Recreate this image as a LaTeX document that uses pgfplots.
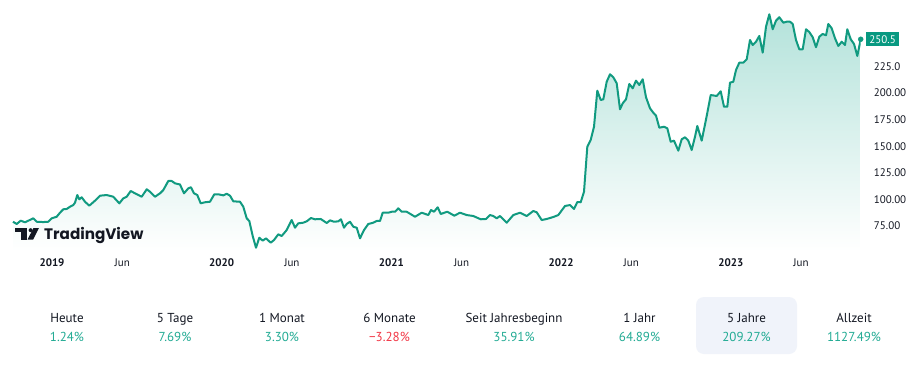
\documentclass[border=0pt]{standalone}
\usepackage{fontspec}
\setmainfont{PT Sans}
\newfontfamily\logofont{Poppins}
\usepackage{pgfplots}
\usepackage{pgfplotstable}
\pgfplotsset{compat=1.18}
\definecolor{tvline}{HTML}{119A80}
\definecolor{tvbox}{HTML}{089981}
\definecolor{tvpct}{HTML}{22AB94}
\definecolor{tvtext}{HTML}{131722}
\definecolor{tvred}{HTML}{F23645}
\definecolor{tvhl}{HTML}{F0F3FA}
% t = position on the time scale (169.7 units per year, 1 Jan 2019 = 52), val = price
\pgfplotstableread{
t val
13 79.0
16.7 76.9
20.7 80.0
25 78.5
33.3 82.2
36.7 79.0
43.3 78.7
48.3 79.0
51.7 82.2
56.7 83.7
60 87.5
63.3 90.7
66.7 91.0
70 93.1
73.3 94.7
75 96.9
77.3 104.1
79.3 100.1
81.7 102.0
85 97.8
89.3 94.1
95 98.8
100 103.5
106.7 104.1
113.3 102.5
119.3 96.3
123.3 101.0
126.7 102.5
130.7 107.9
135 105.7
141.7 102.5
146.7 109.5
150 107.2
155 102.5
160 105.7
163.3 108.8
168.3 117.3
171.7 117.3
175 115.1
180 114.0
184 105.7
188.3 110.4
191 111.4
194 105.7
197.3 104.1
200.7 96.3
205 97.3
210 97.8
214.3 104.8
218.3 104.8
223.3 103.8
226.7 105.3
230 103.5
233.3 98.2
240 97.8
243.3 93.1
246.7 82.2
249.3 79.7
252.7 65.6
256 54.6
259.3 64.0
262.7 61.2
266 63.4
270.7 59.3
274 61.8
278.3 67.2
281.7 65.6
286.7 71.2
291.7 80.6
295 73.4
298.3 77.5
303.3 78.1
306.7 79.4
311 82.5
315 81.3
320.7 81.6
326.7 77.8
330 80.3
334 79.0
338.3 79.4
341 81.3
344 73.4
346.7 76.9
350 79.0
353.3 74.3
356.7 73.4
360 63.4
364 71.2
368.3 76.9
373.3 78.1
376.7 79.7
380 79.7
382.7 87.5
388.3 87.5
391.7 88.4
395 88.4
398.3 91.6
401.7 88.4
406.7 88.4
415 83.7
421.7 87.5
428.3 85.3
431 90.0
434 88.4
437.7 92.6
440.7 86.3
447.3 88.4
454.3 84.7
460 87.5
466.7 85.3
473.3 84.4
480.7 81.3
486 81.6
490 85.3
493.3 84.4
496.7 82.2
500 84.4
506.7 78.1
513.3 85.3
520 87.5
526.7 84.4
533.3 89.1
536.7 87.9
541.7 80.6
546.7 81.6
550 82.5
554 83.7
558.3 85.3
565 93.8
570 94.7
574 91.0
577.3 97.5
580.7 97.3
584 107.2
587.3 149.5
590.7 155.8
594 168.3
597.3 202.2
600.7 193.4
603.3 194.1
606.7 210.6
610 217.6
613.3 214.8
616.7 209.1
620 184.7
622.7 190.3
626 194.1
629.3 208.5
632.7 204.4
636 211.6
639.3 207.5
642.7 212.9
646 196.0
650 185.6
653.3 181.5
656 178.7
659.3 167.4
664 168.3
667.3 166.8
670.7 154.2
674 155.2
678.3 145.8
681.7 156.5
685 158.4
688.3 155.2
691.7 146.4
695 158.9
697.3 169.0
701.7 155.2
706.7 178.4
710.7 198.1
716.7 197.2
720.7 201.6
724 187.1
727.3 187.1
730 209.7
733.3 210.6
736 221.6
739.3 228.5
743.3 228.5
746.7 231.7
750 249.8
752.7 245.1
756 248.2
759.3 253.6
762.7 237.9
766 262.3
769.3 274.0
772.7 259.9
776 268.0
779.3 271.2
783.3 266.1
786.7 267.0
790 267.0
792.7 264.9
796 249.8
799.3 241.1
802.7 241.1
806 259.9
809.3 257.3
812.7 252.4
816 243.0
819.3 252.9
822.7 255.5
826 254.2
828.3 264.9
831.7 260.8
835 251.4
838.3 244.2
841.7 248.2
845 245.1
847.3 259.9
850.7 250.5
854 246.1
857.3 234.8
860.7 250.5
}\pricedata
\begin{document}
\begin{tikzpicture}
\path[use as bounding box, fill=white] (0,0) rectangle (916bp,-370bp);
\begin{axis}[
  at={(12bp,-251bp)}, anchor=south west,
  scale only axis, width=848.7bp, height=251bp,
  xmin=12, xmax=860.7, ymin=51.5, ymax=287.4,
  axis line style={draw=none}, major tick length=0pt,
  xtick={52,122.2,221.7,291.9,391.4,461.6,561.1,631.3,730.8,801.0},
  xticklabels={\textbf{2019},Jun,\textbf{2020},Jun,\textbf{2021},Jun,\textbf{2022},Jun,\textbf{2023},Jun},
  xticklabel style={anchor=center, inner sep=0pt, yshift=-11.5bp, text=tvtext,
    font=\fontsize{11bp}{13bp}\selectfont},
  ytick={75,100,125,150,175,200,225},
  yticklabels={75.00,100.00,125.00,150.00,175.00,200.00,225.0},
  yticklabel pos=right,
  yticklabel style={anchor=west, inner sep=0pt, xshift=13bp, text=tvtext,
    font=\fontsize{11bp}{13bp}\selectfont},
]
\addplot[draw=none, top color=tvpct!34!white, bottom color=white]
  table[x=t, y=val] {\pricedata} -- (axis cs:860.7,51.5) -- (axis cs:13,51.5) -- cycle;
\addplot[tvline, line width=2bp, line join=round] table[x=t, y=val] {\pricedata};
\addplot[only marks, mark=*, mark size=2.5bp, tvline] coordinates {(860.7,250.5)};
\coordinate (lastval) at (axis cs:860.7,250.5);
\end{axis}
\node[anchor=west, fill=tvbox, text=white, inner xsep=3bp, inner ysep=0pt, minimum height=14bp,
  font=\fontsize{11bp}{13bp}\selectfont] at ([xshift=5.5bp]lastval) {250.5};
% TradingView logo
\fill[tvtext] (15bp,-228bp) rectangle (26.5bp,-232.2bp);
\fill[tvtext] (21bp,-232bp) rectangle (26.5bp,-239.5bp);
\fill[tvtext] (30.6bp,-230.2bp) circle (2bp);
\fill[tvtext] (27.6bp,-239.5bp) -- (33.2bp,-239.5bp) -- (39bp,-228bp) -- (33.4bp,-228bp) -- cycle;
\node[anchor=base west, inner sep=0pt, text=tvtext, font=\logofont\bfseries\fontsize{15.2bp}{17bp}\selectfont]
  at (44bp,-239.3bp) {TradingView};
% performance row
\fill[tvhl, rounded corners=8bp] (696bp,-297bp) rectangle (797bp,-354bp);
\foreach \cx/\lab/\val/\col in {67/Heute/1.24\%/tvpct, 175/5 Tage/7.69\%/tvpct,
  282/1 Monat/3.30\%/tvpct, 389.5/6 Monate/\textminus3.28\%/tvred,
  514/Seit Jahresbeginn/35.91\%/tvpct, 639.5/1 Jahr/64.89\%/tvpct,
  746.5/5 Jahre/209.27\%/tvpct, 854/Allzeit/1127.49\%/tvpct}{
  \node[anchor=base, inner sep=0pt, text=tvtext, font=\fontsize{13bp}{15bp}\selectfont]
    at (\cx bp,-322.3bp) {\lab};
  \node[anchor=base, inner sep=0pt, text=\col, font=\fontsize{13bp}{15bp}\selectfont]
    at (\cx bp,-341.8bp) {\val};
}
\end{tikzpicture}
\end{document}
